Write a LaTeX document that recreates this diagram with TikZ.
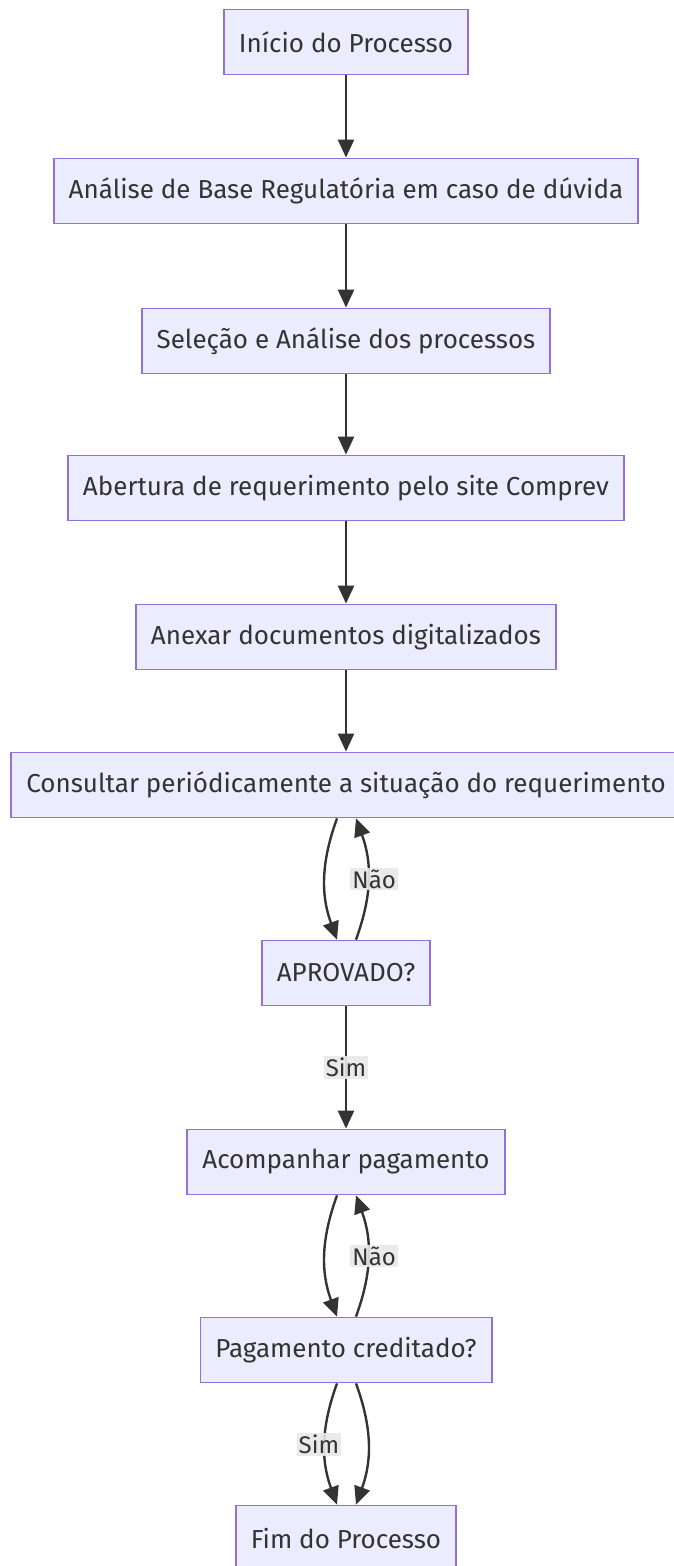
\documentclass[tikz,border=0pt]{standalone}
\usepackage{fontspec}
\setmainfont{Fira Sans}
\usetikzlibrary{arrows.meta}
\definecolor{caixafundo}{HTML}{ECECFF}
\definecolor{caixaborda}{HTML}{9370DB}
\definecolor{texto}{HTML}{333333}
\definecolor{rotulofundo}{HTML}{E8E8E8}
\tikzset{
  caixa/.style={draw=caixaborda, fill=caixafundo, line width=1.8pt, text=texto,
    minimum height=65pt, inner xsep=15pt, font=\fontsize{26}{31}\selectfont},
  rotulo/.style={fill=rotulofundo, fill opacity=0.9, text opacity=1, text=texto,
    inner sep=2pt, font=\fontsize{24}{29}\selectfont},
  seta/.style={->, draw=texto, line width=2.4pt}
}
\begin{document}
\begin{tikzpicture}[x=1pt, y=1pt, >={Triangle[length=18pt,width=16pt]}]
\useasboundingbox (0,0) rectangle (673,-1566);
\node[caixa] (inicio) at (346,-42) {Início do Processo};
\node[caixa] (analise) at (346,-191) {Análise de Base Regulatória em caso de dúvida};
\node[caixa] (selecao) at (346,-341) {Seleção e Análise dos processos};
\node[caixa] (abertura) at (346,-488) {Abertura de requerimento pelo site Comprev};
\node[caixa] (anexar) at (346,-637) {Anexar documentos digitalizados};
\node[caixa] (consultar) at (346,-785) {Consultar periódicamente a situação do requerimento};
\node[caixa] (aprovado) at (346,-973) {APROVADO?};
\node[caixa] (acompanhar) at (346,-1162) {Acompanhar pagamento};
\node[caixa] (creditado) at (346,-1350) {Pagamento creditado?};
\node[caixa] (fim) at (346,-1538) {Fim do Processo};

\draw[seta](inicio)--(analise);
\draw[seta](analise)--(selecao);
\draw[seta](selecao)--(abertura);
\draw[seta](abertura)--(anexar);
\draw[seta](anexar)--(consultar);

\draw[seta]([xshift=-9pt]consultar.south) to[out=-110,in=110] ([xshift=-9pt]aprovado.north);
\draw[seta]([xshift=10pt]aprovado.north) to[out=70,in=-70]
  node[rotulo, midway, xshift=6pt]{Não} ([xshift=10pt]consultar.south);

\draw[seta](aprovado)--node[rotulo]{Sim}(acompanhar);

\draw[seta]([xshift=-9pt]acompanhar.south) to[out=-110,in=110] ([xshift=-9pt]creditado.north);
\draw[seta]([xshift=10pt]creditado.north) to[out=70,in=-70]
  node[rotulo, midway, xshift=6pt]{Não} ([xshift=10pt]acompanhar.south);

\draw[seta]([xshift=-9pt]creditado.south) to[out=-110,in=110]
  node[rotulo, midway, xshift=-6pt]{Sim} ([xshift=-9pt]fim.north);
\draw[seta]([xshift=10pt]creditado.south) to[out=-70,in=70] ([xshift=10pt]fim.north);
\end{tikzpicture}
\end{document}
